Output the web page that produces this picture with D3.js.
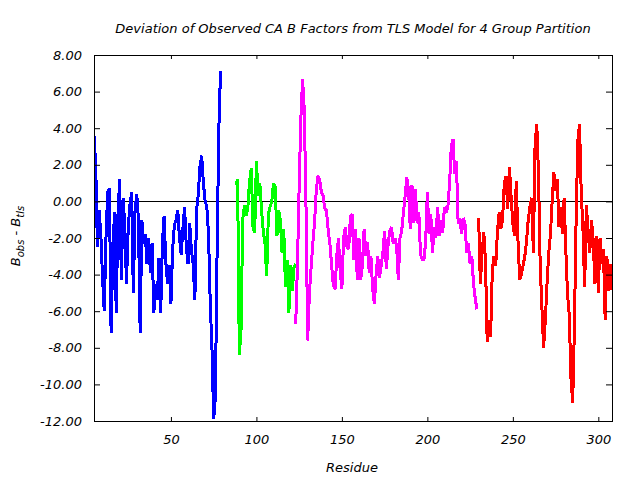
<!DOCTYPE html>
<html>
<head>
<meta charset="utf-8">
<script src="https://cdn.jsdelivr.net/npm/d3@7"></script>
<style>
  html, body { margin: 0; padding: 0; background: #fff; }
  svg { display: block; }
  text { font-family: "DejaVu Sans", sans-serif; font-style: italic; fill: #000; }
</style>
</head>
<body>
<svg id="chart" width="640" height="480"></svg>
<script>
// ---- data ----
const title = "Deviation of Observed CA B Factors from TLS Model for 4 Group Partition";
const xLabel = "Residue";
const yTicks = [-12, -10, -8, -6, -4, -2, 0, 2, 4, 6, 8];
const xTicks = [50, 100, 150, 200, 250, 300];
const xDomain = [5, 308];
const yDomain = [-12, 8];

const groupColors = ["#0000ff", "#00ff00", "#ff00ff", "#ff0000"];
const groupStarts = [5, 88, 123, 230];

const group1Values = [
  3.6, 2.0, -2.5, -0.5, -1.8, -4.2, -6.0, -2.0, 0.5, 0.7,
  -7.2, -2.8, -0.6, -6.1, -0.8, 1.2, -4.3, 0.2, -1.3, -4.5,
  -1.5, -0.2, 0.5, -5.0, -0.5, 0.4, -1.0, -7.2, -1.0, -2.3,
  -1.8, -3.4, -2.0, -3.9, -2.3, -6.1, -4.5, -5.4, -3.1, -6.1,
  -2.3, -0.8, -3.3, -4.5, -3.5, -5.6, -2.6, -1.3, -1.0, -0.5,
  -2.0, -2.9, -1.5, -0.3, -2.5, -3.4, -1.2, -2.7, -3.4, -5.4,
  -0.5, 0.4, 1.9, 2.5, 1.0, 0.0, -0.3, -1.8, -5.6, -8.0,
  -11.9, -10.7, -2.8, 3.9, 7.1
];
const group2Values = [
  0.9, 1.2, -8.4, -7.0, -1.0, -0.2, -0.8, -0.3, 1.1, 1.8,
  -1.4, -1.7, 2.2, 0.3, 1.0, -0.5, -1.6, -2.3, -4.1, -0.7,
  -0.3, 0.0, 1.0, 0.8, -1.9, -0.5, -1.0, -2.8, -1.5, -4.7,
  -3.2, -6.1, -3.5, -4.9, -3.6, -3.4
];
const group3Values = [
  -6.7, -3.5, 0.8, 4.5, 6.7, 5.0, -0.2, -7.6, -5.0, -3.6,
  -2.3, -1.2, 0.6, 1.4, 1.2, 0.5, 0.3, -0.4, -0.5, -1.6,
  -2.3, -3.5, -4.6, -4.8, -3.0, -2.0, -3.8, -4.8, -2.0, -1.4,
  -2.5, -2.6, -0.8, -0.7, -3.2, -1.5, -4.3, -2.0, -4.3, -3.5,
  -1.5, -3.0, -2.2, -3.9, -3.0, -4.8, -5.6, -4.0, -3.0, -4.2,
  -3.5, -2.8, -1.6, -3.7, -2.4, -1.6, -1.4, -2.3, -2.0, -2.4,
  -4.3, -2.0, -1.6, -0.6, 0.3, 1.3, 0.6, -1.5, 0.9, -1.2,
  0.7, -1.2, -0.6, -2.9, -3.2, -3.2, -2.2, 0.5, -1.8, -0.7,
  -2.8, -1.4, -2.0, -0.3, -1.9, -1.0, -1.7, -0.3, -0.6, -0.3,
  1.0, 3.0, 3.4, 1.5, 2.2, -1.2, -0.9, -1.8, -0.9, -1.2,
  -2.8, -2.3, -3.4, -3.0, -4.5, -5.3, -5.9
];
const group4Values = [
  -0.9, -4.5, -2.8, -1.7, -3.3, -7.7, -6.5, -7.4, -3.7, -3.0,
  -3.5, -1.6, -0.6, -1.5, -1.0, 1.0, 1.4, -0.4, 1.9, 0.2,
  -1.2, -1.9, 1.1, -2.1, -4.3, -4.0, -3.5, -3.0, -2.2, -1.0,
  -0.3, 0.2, -2.8, 3.1, 4.2, 1.5, -3.5, -5.8, -8.0, -6.5,
  -4.5, -2.8, -1.8, 0.0, 1.6, 0.6, 1.2, -1.4, -0.3, -1.8,
  0.2, -2.7, -5.1, -6.2, -9.7, -11.0, -7.0, -1.0, 3.3, 4.2,
  0.5, -1.5, -4.7, -0.2, -1.6, -2.8, -1.0, -2.1, -4.5, -1.9,
  -5.0, -2.0, -3.4, -2.6, -6.5, -3.0, -4.9, -3.4, -4.85
];
const groupValues = [group1Values, group2Values, group3Values, group4Values];

// ---- layout ----
const svg = d3.select("#chart");
const mLeft = 94, mRight = 612, mTop = 55, mBottom = 421;

const x = d3.scaleLinear().domain(xDomain).range([mLeft, mRight]);
const y = d3.scaleLinear().domain(yDomain).range([mBottom, mTop]);

// clip
svg.append("defs").append("clipPath").attr("id", "plotclip")
  .append("rect").attr("x", mLeft).attr("y", mTop)
  .attr("width", mRight - mLeft).attr("height", mBottom - mTop);

// zero line
svg.append("line")
  .attr("x1", mLeft).attr("x2", mRight)
  .attr("y1", Math.round(y(0)) + 0.5).attr("y2", Math.round(y(0)) + 0.5)
  .attr("stroke", "#000").attr("stroke-width", 1);

// series lines
const line = d3.line().x(d => x(d[0])).y(d => y(d[1]));
const plot = svg.append("g").attr("clip-path", "url(#plotclip)");
groupValues.forEach((vals, gi) => {
  const pts = vals.map((v, i) => [groupStarts[gi] + i, v]);
  plot.append("path")
    .attr("d", line(pts))
    .attr("fill", "none")
    .attr("stroke", groupColors[gi])
    .attr("stroke-width", 3)
    .attr("stroke-linejoin", "bevel")
    .attr("stroke-linecap", "butt")
    .attr("shape-rendering", "crispEdges");
});

// axes (inward ticks on all four sides)
const fmtY = v => v.toFixed(2);
const axL = d3.axisLeft(y).tickValues(yTicks).tickSizeInner(-6).tickSizeOuter(0).tickPadding(12).tickFormat(fmtY);
const axR = d3.axisRight(y).tickValues(yTicks).tickSizeInner(-6).tickSizeOuter(0).tickFormat("");
const axB = d3.axisBottom(x).tickValues(xTicks).tickSizeInner(-4).tickSizeOuter(0).tickPadding(14).tickFormat(d3.format("d"));
const axT = d3.axisTop(x).tickValues(xTicks).tickSizeInner(-4).tickSizeOuter(0).tickFormat("");

function styleAxis(g) {
  g.select(".domain").remove();
  g.selectAll(".tick line").attr("stroke", "#000").attr("stroke-width", 1);
  g.selectAll(".tick text").attr("font-family", "DejaVu Sans, sans-serif")
    .attr("font-style", "italic").attr("font-size", 13).attr("fill", "#000");
}
svg.append("g").attr("transform", `translate(${mLeft},0)`).call(axL).call(styleAxis);
svg.append("g").attr("transform", `translate(${mRight},0)`).call(axR).call(styleAxis);
svg.append("g").attr("transform", `translate(0,${mBottom})`).call(axB).call(styleAxis);
svg.append("g").attr("transform", `translate(0,${mTop})`).call(axT).call(styleAxis);

// frame
svg.append("rect")
  .attr("x", mLeft + 0.5).attr("y", mTop + 0.5)
  .attr("width", mRight - mLeft).attr("height", mBottom - mTop)
  .attr("fill", "none").attr("stroke", "#000").attr("stroke-width", 1);

// title
svg.append("text")
  .attr("x", 353).attr("y", 33)
  .attr("text-anchor", "middle")
  .attr("font-size", 13)
  .text(title);

// x label
svg.append("text")
  .attr("x", 352).attr("y", 472)
  .attr("text-anchor", "middle")
  .attr("font-size", 13)
  .text(xLabel);

// y label with subscripts
const yl = svg.append("text")
  .attr("transform", "translate(20,236) rotate(-90)")
  .attr("text-anchor", "middle")
  .attr("font-size", 13);
yl.append("tspan").text("B");
yl.append("tspan").attr("font-size", 10).attr("dy", 4).text("obs");
yl.append("tspan").attr("dy", -4).text(" - B");
yl.append("tspan").attr("font-size", 10).attr("dy", 4).text("tls");
</script>
</body>
</html>
